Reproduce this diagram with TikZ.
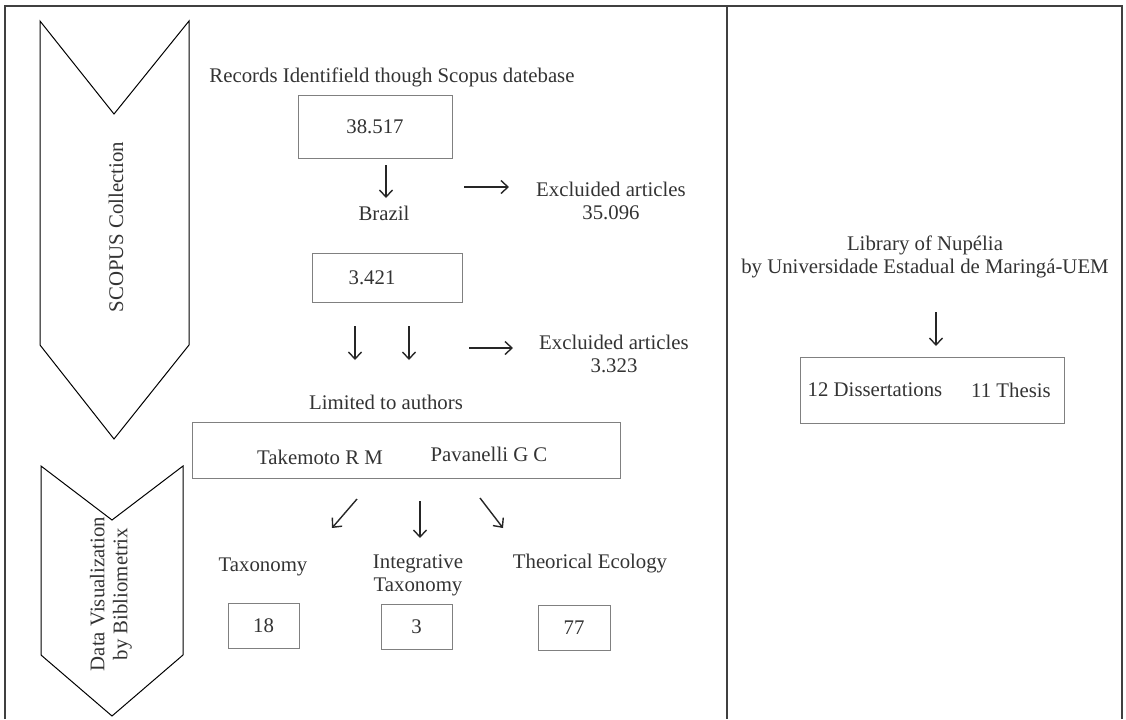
\documentclass[tikz,border=0pt]{standalone}
\usepackage{fontspec}
\setmainfont{Liberation Serif}
\usetikzlibrary{arrows.meta}

\begin{document}
\begin{tikzpicture}[x=0.5pt, y=-0.5pt,
        every node/.style={text=black!80, font=\fontsize{10.4}{11.5}\selectfont},
        frameline/.style={line width=1.2pt, draw=black!75},
        chevron/.style={line width=0.5pt, draw=black},
        box/.style={draw=black!50, line width=0.5pt},
        arr/.style={-{Straight Barb[length=3.5pt,width=6.5pt]}, line width=0.7pt, draw=black!85}]

        \useasboundingbox (0,0) rectangle (1126,719);

        % outer frame, open at the bottom
        \draw[frameline] (5,719) -- (5,6) -- (1122,6) -- (1122,719);
        \draw[frameline] (727,6) -- (727,719);

        % the two chevrons on the left
        \draw[chevron] (40,21) -- (114,114) -- (189,21) -- (189,345)
            -- (114,439) -- (40,345) -- cycle;
        \draw[chevron] (41,466) -- (112,520) -- (183,466) -- (183,655)
            -- (112,716) -- (41,655) -- cycle;
        \node[rotate=90] (scopus) at (116,227) {SCOPUS Collection};
        \node[rotate=90, align=center] (dataviz) at (111,594)
            {Data Visualization\\by Bibliometrix};

        \begin{scope}
            \node (rec) at (392,77)
            {Records Identifield though Scopus datebase};
            \node[box, minimum width=77pt, minimum height=31.5pt] (n38517)
            at (375,126.5) {38.517};
            \node (brazil) at (384,213) {Brazil};
            \node[align=center] (exc1) at (611,201)
            {Excluided articles\\35.096};
            \node[box, minimum width=75pt, minimum height=24.5pt,
                label={[xshift=-7.5pt]center:3.421}] (n3421)
            at (387,277.5) {};
            \node[align=center] (exc2) at (614,354)
            {Excluided articles\\3.323};
            \node (limited) at (386,402) {Limited to authors};
            \node[box, minimum width=214pt, minimum height=28pt] (authors)
            at (406,450) {};
            \node (takemoto) at (320,457) {Takemoto R M};
            \node (pavanelli) at (489,454) {Pavanelli G C};

            \node (tax) at (263,567) {Taxonomy};
            \node[align=center] (integ) at (418,575.5)
            {Integrative\\Taxonomy};
            \node (theo) at (590,564) {Theorical Ecology};
            \node[box, minimum width=35.5pt, minimum height=22.5pt] (n18)
            at (263.5,625.5) {18};
            \node[box, minimum width=35.5pt, minimum height=22.5pt] (n3)
            at (416.5,626.5) {3};
            \node[box, minimum width=36pt, minimum height=22.5pt] (n77)
            at (574,627.5) {77};
        \end{scope}

        \begin{scope}
            \node[align=center] (library) at (925,256.5)
            {Library of Nup\'elia\\by Universidade Estadual de Maring\'a-UEM};
            \node[box, minimum width=132pt, minimum height=33pt] (theses)
            at (932,390) {};
            \node (diss) at (875,390) {12 Dissertations};
            \node (thesis) at (1011,390) {11 Thesis};
        \end{scope}

        % free arrows
        \coordinate (a1s) at (386,165);  \coordinate (a1e) at (386,198);
        \coordinate (r1s) at (464,187);  \coordinate (r1e) at (509,187);
        \coordinate (a2s) at (355,326);  \coordinate (a2e) at (355,360);
        \coordinate (a3s) at (409,326);  \coordinate (a3e) at (409,360);
        \coordinate (r2s) at (469,348);  \coordinate (r2e) at (513,348);
        \coordinate (d1s) at (357,499);  \coordinate (d1e) at (332,528);
        \coordinate (d2s) at (420,501);  \coordinate (d2e) at (420,538);
        \coordinate (d3s) at (480,498);  \coordinate (d3e) at (503,528);
        \coordinate (l1s) at (936,312);  \coordinate (l1e) at (936,346);

        \begin{scope}
            \foreach \a in {a1,r1,a2,a3,r2,d1,d2,d3,l1}
            \draw[arr] (\a s) -- (\a e);
        \end{scope}

\end{tikzpicture}
\end{document}
